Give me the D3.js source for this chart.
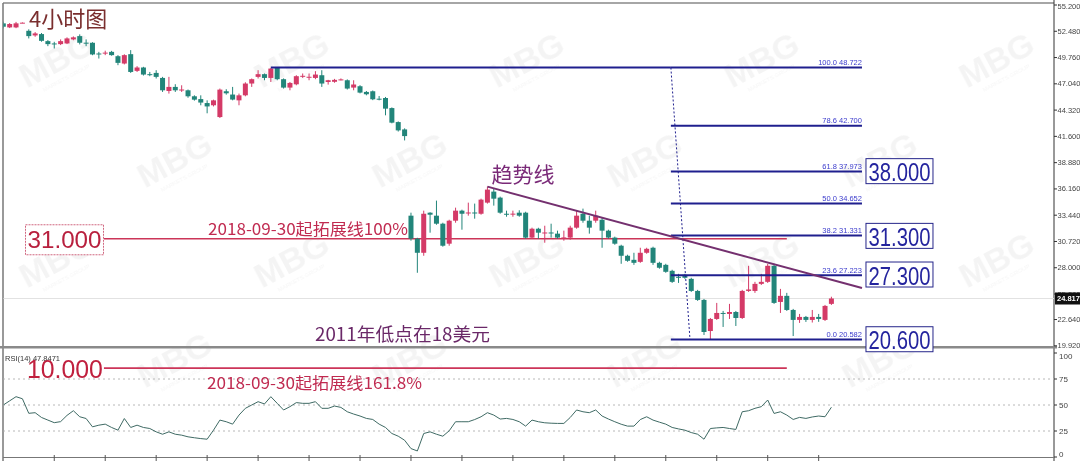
<!DOCTYPE html>
<html><head><meta charset="utf-8">
<script src="https://cdn.jsdelivr.net/npm/d3@7"></script>
<style>body{margin:0;background:#fff;overflow:hidden}svg{display:block;font-family:"Liberation Sans",Arial,sans-serif}</style>
</head><body><svg id="c" width="1080" height="461"></svg>
<script>
// ---------- DATA ----------
const candleOpen = [
53.30,52.88,52.88,53.35,52.53,52.05,52.19,51.46,51.22,51.15,
51.22,51.64,51.98,51.30,51.29,50.18,50.25,50.35,49.90,49.14,
50.11,48.38,48.73,48.04,48.17,47.65,46.30,46.72,46.43,46.37,
45.75,45.46,45.05,44.82,43.60,46.27,45.93,45.33,45.85,47.07,
47.76,48.04,47.65,48.69,47.52,46.65,46.99,47.85,47.75,47.65,
47.93,47.23,47.25,47.48,47.41,46.65,46.79,46.20,46.27,45.50,
45.57,44.53,43.08,42.32,33.39,31.01,29.55,33.70,33.39,32.56,
30.49,32.87,33.91,33.70,33.72,33.59,34.74,35.88,35.26,33.59,
33.57,33.70,33.70,31.12,32.04,31.63,31.65,31.53,31.12,31.12,
32.15,33.59,32.87,32.87,32.97,31.84,31.12,30.28,29.24,28.82,
28.61,29.55,30.07,28.51,28.30,27.68,27.06,27.27,26.85,25.60,
24.67,21.45,22.70,23.32,23.22,23.42,22.80,25.60,25.60,26.33,
26.54,28.20,24.46,25.09,23.63,22.60,22.91,22.60,22.91,22.60,
24.26];
const candleHigh = [
53.47,53.33,53.45,53.40,52.68,52.40,52.30,51.57,51.39,51.64,
51.85,51.95,52.16,51.64,51.35,50.35,50.47,50.45,50.01,50.10,
50.53,48.87,48.80,48.27,48.45,47.76,47.76,47.00,46.89,46.45,
45.85,45.85,45.33,45.40,46.55,46.48,46.72,46.03,47.20,47.59,
48.45,48.11,48.69,48.722,47.60,47.23,47.93,48.11,48.11,48.35,
48.45,47.45,47.55,47.60,47.50,47.41,46.90,46.30,46.35,45.78,
45.68,44.60,43.15,42.43,33.70,31.10,33.91,33.75,34.95,32.66,
32.97,34.22,34.01,34.74,34.64,35.15,36.40,36.20,35.36,33.91,
33.91,33.95,33.80,32.15,32.14,32.35,32.56,31.84,31.84,32.35,
33.91,34.12,33.39,33.91,33.20,31.94,31.22,30.38,29.35,29.55,
30.07,30.07,30.18,28.62,28.41,27.79,27.37,27.37,26.96,25.71,
24.77,22.80,24.36,23.53,24.26,23.53,25.71,28.20,26.54,27.37,
28.41,28.41,25.81,25.40,23.74,23.22,23.01,23.63,23.22,24.15,
25.00];
const candleLow = [
52.78,52.81,52.80,53.32,51.74,51.91,51.40,50.94,50.70,51.05,
51.15,51.55,51.12,50.94,50.00,49.66,50.01,49.95,48.97,49.05,
48.17,48.27,47.90,47.83,47.59,46.20,46.03,46.20,46.20,45.60,
45.30,44.82,43.99,44.70,43.50,45.92,45.33,44.82,45.75,46.72,
47.59,47.41,47.23,47.41,46.55,46.37,46.89,47.65,47.41,47.52,
46.72,46.96,47.15,47.40,46.45,46.37,46.05,45.85,45.35,45.33,
43.78,42.95,42.10,41.18,30.80,27.48,29.24,31.63,32.45,30.18,
30.28,32.66,31.94,33.39,33.08,33.49,34.64,34.43,33.59,33.28,
33.28,33.28,31.01,31.01,31.01,30.59,31.12,31.01,30.80,30.90,
32.04,32.66,31.53,32.66,30.07,31.01,30.38,28.41,28.62,28.30,
28.51,29.45,28.30,27.90,27.48,26.43,26.43,26.85,25.50,24.57,
21.04,20.582,22.60,21.87,22.70,21.97,22.70,25.50,25.40,26.22,
26.43,24.26,23.32,23.53,20.93,22.29,22.39,22.33,22.40,22.49,
24.15];
const candleClose = [
52.95,53.23,53.30,53.37,51.98,52.26,51.49,51.15,51.20,51.46,
51.74,51.85,51.29,51.28,50.08,50.16,50.27,50.01,49.21,50.01,
48.27,48.73,48.00,48.02,47.76,46.37,46.72,46.37,46.45,45.75,
45.40,45.10,44.70,45.33,46.44,46.06,45.41,45.85,47.07,47.52,
48.04,47.65,48.62,47.52,46.65,47.13,47.83,47.87,47.77,48.00,
47.07,47.41,47.45,47.50,46.55,46.97,46.13,45.96,45.44,45.48,
44.47,43.02,42.22,41.63,31.01,29.55,33.59,33.49,32.56,30.28,
32.87,33.91,33.59,33.72,33.70,35.05,36.09,35.15,33.70,33.57,
33.60,33.39,31.12,32.04,31.63,31.65,31.62,31.12,31.14,32.15,
33.39,32.87,32.15,33.39,31.84,31.12,30.49,29.24,28.72,28.51,
29.55,29.96,28.51,28.00,27.58,26.54,27.04,26.96,25.60,24.67,
21.35,22.70,23.32,23.30,23.42,22.80,25.60,25.75,26.33,26.54,
28.20,24.36,25.09,23.63,22.60,22.91,22.60,22.91,22.70,24.05,
24.817];
const rsiValues = [
50,54,58,56,42,42.6,38,35.5,33,34,
40,44.5,38.7,37,29,30.6,31.6,28.4,25.8,37,
28.4,30.6,28.4,27.4,24.2,21.9,24.2,21.9,21,19.4,
18.5,17.7,17.1,25.8,35.5,33.9,31.6,40.3,46.8,50,
53.2,51,58,51.6,45.2,48.4,52.3,51.6,51.6,53.2,
46.8,46.8,49,47.7,43.5,41.3,39.4,37.1,36.1,31.6,
28.4,22.6,20,16.1,8.1,5.8,22.6,24.2,21.9,20,
25.2,33.9,33.9,33.9,36,38.7,42.6,40.3,36.5,37.1,
36.1,33.9,29.7,35.5,33.9,32.9,32.5,32.3,32.3,38,
45.2,43.5,42.6,45.2,39.4,36.5,33.9,31.5,29.7,29.7,
36,38.7,35.5,33.5,31.6,28.4,27,25.8,23.5,21.9,
17.1,27.4,28,28.4,27.4,26.5,43.5,44.5,46.8,48.4,
54.8,41.9,43.5,40.3,36.1,38.1,37.1,38.5,39.4,38.7,
47.85];
const priceTicks = [19.92,22.64,25.28,28.0,30.72,33.44,36.16,38.88,41.6,44.32,47.04,49.76,52.48,55.2];
const rsiTicks = [0,25,50,75,100];
const rsiGrid = [25,50,75];
const fibLevels = [0,23.6,38.2,50,61.8,78.6,100];
const fibHigh = 48.722, fibLow = 20.582;
const targetBoxes = [38.0,31.3,27.3,20.6];
const extLevel = 31.0;
const rsiExtLevel = 85.5;
const lastPrice = 24.817, lastRsi = 47.8471;
const trendStart = {i:76, p:36.40}, trendEnd = {i:134.8, p:25.90};
const fibFrom = {i:104.8}, fibTo = {i:107.8}, fibEnd = 134.8, highLineFrom = 42;
const extFrom = 15.8, extTo = 123;
const xTickStep = 8;

// ---------- SCALES ----------
const svg = d3.select('#c');
const axisX = 1054;
const x = d3.scaleLinear().domain([0,130]).range([3.3,831.4]);
const y = d3.scaleLinear().domain([19.92,55.2]).range([345.8,5]);
const yr = d3.scaleLinear().domain([0,100]).range([457,353]);

const defs = svg.append('defs');
defs.append('clipPath').attr('id','pc').append('rect').attr('x',3.5).attr('y',3).attr('width',axisX-3.5).attr('height',343);
defs.append('clipPath').attr('id','rc').append('rect').attr('x',3.5).attr('y',349).attr('width',axisX-3.5).attr('height',108);

// ---------- WATERMARK ----------
const wm = svg.append('g').attr('opacity',0.045);
for (let r=0;r<5;r++) for (let c=-1;c<6;c++){
  const cx = 62 + c*235 + (r%2)*118, cy = 70 + r*100;
  if (cx < 60 || cx > 1010 || cy > 440) continue;
  const g = wm.append('g').attr('transform',`translate(${cx},${cy}) rotate(-28)`);
  g.append('text').attr('text-anchor','middle').attr('font-size',34).attr('font-weight','bold').attr('fill','#000').text('MBG');
  g.append('text').attr('x',0).attr('y',11).attr('text-anchor','middle').attr('font-size',6).attr('fill','#000').text('MARKETS GROUP');
}

// ---------- FRAME ----------
svg.append('line').attr('x1',3).attr('x2',axisX).attr('y1',3).attr('y2',3).attr('stroke','#888').attr('stroke-width',1.5);
svg.append('line').attr('x1',3).attr('x2',3).attr('y1',3).attr('y2',461).attr('stroke','#777').attr('stroke-width',1.5);
svg.append('line').attr('x1',axisX).attr('x2',axisX).attr('y1',0).attr('y2',461).attr('stroke','#333');
svg.append('rect').attr('x',0).attr('y',346).attr('width',axisX+3).attr('height',2.5).attr('fill','#8a8a8a');
svg.append('line').attr('x1',3).attr('x2',axisX).attr('y1',457.5).attr('y2',457.5).attr('stroke','#777');
svg.append('g').selectAll('line').data(d3.range(xTickStep,131,xTickStep)).join('line')
  .attr('x1',d=>x(d)).attr('x2',d=>x(d)).attr('y1',455).attr('y2',461).attr('stroke','#555');

// ---------- PRICE PANEL ----------
const pp = svg.append('g').attr('clip-path','url(#pc)');
pp.append('line').attr('x1',3).attr('x2',axisX).attr('y1',y(lastPrice)).attr('y2',y(lastPrice)).attr('stroke','#e2e2e2');

pp.append('line').attr('x1',x(extFrom)).attr('x2',x(extTo)).attr('y1',y(extLevel)).attr('y2',y(extLevel)).attr('stroke','#cc3558').attr('stroke-width',1.6);

const idx = d3.range(candleOpen.length);
const bull = '#d43a67', bear = '#22857a';
const cg = pp.append('g');
cg.selectAll('line').data(idx).join('line')
  .attr('x1',i=>x(i)).attr('x2',i=>x(i)).attr('y1',i=>y(candleHigh[i])).attr('y2',i=>y(candleLow[i]))
  .attr('stroke',i=>candleClose[i]>=candleOpen[i]?bull:bear).attr('stroke-width',1);
cg.selectAll('rect').data(idx).join('rect')
  .attr('x',i=>x(i)-2.5).attr('width',5)
  .attr('y',i=>y(Math.max(candleOpen[i],candleClose[i])))
  .attr('height',i=>Math.max(1,Math.abs(y(candleOpen[i])-y(candleClose[i]))))
  .attr('fill',i=>candleClose[i]>=candleOpen[i]?bull:bear);

const fibCol = '#1f1f8e';
const fv = l => fibLow + (fibHigh-fibLow)*l/100;
pp.append('line').attr('x1',x(highLineFrom)).attr('x2',x(fibFrom.i)).attr('y1',y(fibHigh)).attr('y2',y(fibHigh)).attr('stroke',fibCol).attr('stroke-width',2);
pp.append('g').selectAll('line').data(fibLevels).join('line')
  .attr('x1',x(fibFrom.i)).attr('x2',x(fibEnd)).attr('y1',l=>y(fv(l))).attr('y2',l=>y(fv(l)))
  .attr('stroke',fibCol).attr('stroke-width',2);
pp.append('line').attr('x1',x(fibFrom.i)).attr('x2',x(fibTo.i)).attr('y1',y(fibHigh)).attr('y2',y(fibLow))
  .attr('stroke',fibCol).attr('stroke-width',1).attr('stroke-dasharray','2,2');
pp.append('g').selectAll('text').data(fibLevels).join('text')
  .attr('x',x(fibEnd)).attr('y',l=>y(fv(l))-2.5).attr('text-anchor','end').attr('font-size',7.5).attr('fill','#3a3acc')
  .text(l=>`${l.toFixed(1)}  ${fv(l).toFixed(3)}`);

pp.append('line').attr('x1',x(trendStart.i)).attr('y1',y(trendStart.p)).attr('x2',x(trendEnd.i)).attr('y2',y(trendEnd.p))
  .attr('stroke','#74306f').attr('stroke-width',2);

const cjk = '"Noto Sans CJK SC","Noto Sans",sans-serif';
svg.append('text').attr('x',29).attr('y',27).attr('font-family',cjk).attr('font-size',22).attr('fill','#7a2e2e').text('4小时图');
svg.append('text').attr('x',x(trendStart.i)+4).attr('y',y(trendStart.p)-5).attr('font-family',cjk).attr('font-size',21).attr('fill','#7a2a78').text('趋势线');
svg.append('text').attr('x',208).attr('y',y(extLevel)-11).attr('dominant-baseline','central').attr('font-family',cjk).attr('font-size',16)
  .attr('textLength',200).attr('lengthAdjust','spacingAndGlyphs').attr('fill','#c02a50').text('2018-09-30起拓展线100%');
svg.append('text').attr('x',315).attr('y',333).attr('dominant-baseline','central').attr('font-family',cjk).attr('font-size',18)
  .attr('textLength',175).attr('lengthAdjust','spacingAndGlyphs').attr('fill','#6a2868').text('2011年低点在18美元');

svg.append('rect').attr('x',25.5).attr('y',y(extLevel)-14).attr('width',78).attr('height',30).attr('fill','#fff')
  .attr('stroke','#c44060').attr('stroke-width',0.8).attr('stroke-dasharray','2,1');
svg.append('text').attr('x',64.5).attr('y',y(extLevel)+1).attr('text-anchor','middle').attr('dominant-baseline','central')
  .attr('font-size',24).attr('textLength',74).attr('lengthAdjust','spacingAndGlyphs').attr('fill','#b8203e').text(extLevel.toFixed(3));

const tb = svg.append('g').selectAll('g').data(targetBoxes).join('g');
tb.append('rect').attr('x',x(fibEnd)+4).attr('y',d=>y(d)-12.5).attr('width',67).attr('height',25).attr('fill','#fff')
  .attr('stroke','#25258a').attr('stroke-width',1);
tb.append('text').attr('x',x(fibEnd)+37.5).attr('y',d=>y(d)+1).attr('text-anchor','middle').attr('dominant-baseline','central')
  .attr('font-size',25).attr('textLength',62).attr('lengthAdjust','spacingAndGlyphs').attr('fill','#24249e').text(d=>d.toFixed(3));

const pa = svg.append('g');
pa.selectAll('line').data(priceTicks).join('line').attr('x1',axisX).attr('x2',axisX+3).attr('y1',d=>y(d)).attr('y2',d=>y(d)).attr('stroke','#333');
pa.selectAll('text').data(priceTicks).join('text').attr('x',axisX+3.5).attr('y',d=>Math.max(6,y(d))).attr('dominant-baseline','central')
  .attr('font-size',7.5).attr('fill','#444').text(d=>d.toFixed(3));
svg.append('rect').attr('x',axisX+1).attr('y',y(lastPrice)-6).attr('width',26).attr('height',12).attr('fill','#111');
svg.append('text').attr('x',axisX+3).attr('y',y(lastPrice)).attr('dominant-baseline','central').attr('font-size',7.5).attr('font-weight','bold')
  .attr('fill','#fff').text(lastPrice.toFixed(3));

// ---------- RSI PANEL ----------
const rp = svg.append('g').attr('clip-path','url(#rc)');
rp.append('g').selectAll('line').data(rsiGrid).join('line').attr('x1',3).attr('x2',axisX).attr('y1',d=>yr(d)).attr('y2',d=>yr(d))
  .attr('stroke','#b8b8b8').attr('stroke-dasharray','2,3');
rp.append('path').datum(rsiValues).attr('fill','none').attr('stroke','#3f6a64').attr('stroke-width',1)
  .attr('d',d3.line().x((d,i)=>x(i)).y(d=>yr(d)));
rp.append('line').attr('x1',x(extFrom)).attr('x2',x(extTo)).attr('y1',yr(rsiExtLevel)).attr('y2',yr(rsiExtLevel)).attr('stroke','#cc3558').attr('stroke-width',1.6);
svg.append('text').attr('x',5).attr('y',358).attr('dominant-baseline','central').attr('font-size',7.5).attr('fill','#333')
  .text(`RSI(14) ${lastRsi}`);
svg.append('text').attr('x',x(extFrom)-1).attr('y',yr(rsiExtLevel)+1).attr('text-anchor','end').attr('dominant-baseline','central')
  .attr('font-size',25).attr('textLength',76).attr('lengthAdjust','spacingAndGlyphs').attr('fill','#c0203e').text('10.000');
svg.append('text').attr('x',207).attr('y',382).attr('dominant-baseline','central').attr('font-family',cjk).attr('font-size',16)
  .attr('textLength',215).attr('lengthAdjust','spacingAndGlyphs').attr('fill','#c02a50').text('2018-09-30起拓展线161.8%');
const ra = svg.append('g');
ra.selectAll('line').data(rsiTicks).join('line').attr('x1',axisX).attr('x2',axisX+3).attr('y1',d=>yr(d)).attr('y2',d=>yr(d)).attr('stroke','#333');
ra.selectAll('text').data(rsiTicks).join('text').attr('x',axisX+5).attr('y',d=>Math.min(454,Math.max(356,yr(d))))
  .attr('dominant-baseline','central').attr('font-size',8).attr('fill','#444').text(d=>d);
</script></body></html>
